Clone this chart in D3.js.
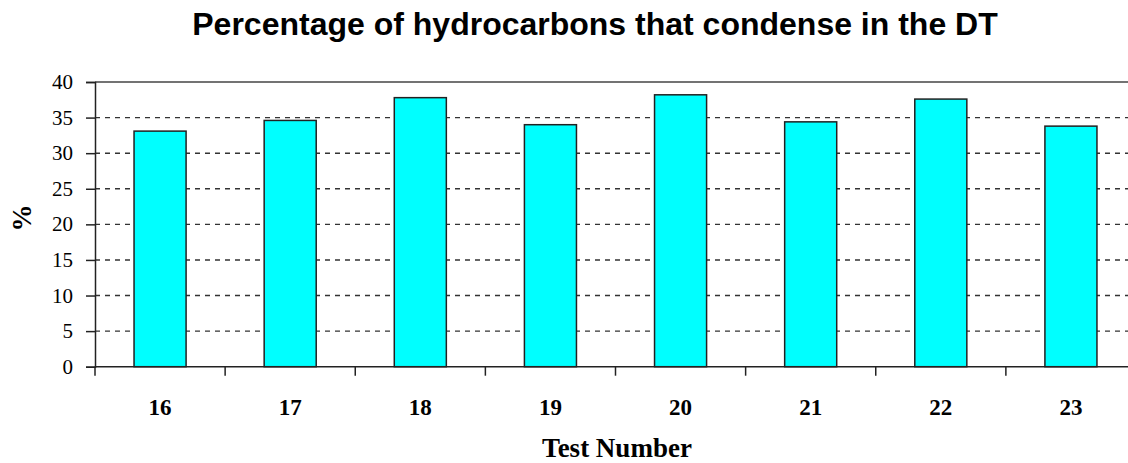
<!DOCTYPE html>
<html><head><meta charset="utf-8">
<script src="https://cdn.jsdelivr.net/npm/d3@7/dist/d3.min.js"></script>
<style>body{margin:0;background:#fff;overflow:hidden}</style>
</head><body>
<svg id="c" width="1128" height="463"></svg>
<script>
const categories = ["16","17","18","19","20","21","22","23"];
const values = [33.1, 34.6, 37.8, 34.0, 38.2, 34.4, 37.6, 33.8];
const yTicks = [0,5,10,15,20,25,30,35,40];
const title = "Percentage of hydrocarbons that condense in the DT";
const xTitle = "Test Number";
const yTitle = "%";

const serif = "'Liberation Serif', 'Times New Roman', serif";
const sans = "'Liberation Sans', Arial, sans-serif";
const svg = d3.select("#c");
const L = 95, R = 1136, T = 82, B = 366.7;
const x = d3.scaleBand().domain(categories).range([L, R]).padding(0);
const y = d3.scaleLinear().domain([0, 40]).range([B, T]);

// gridlines
svg.append("g").selectAll("line").data(yTicks.filter(d => d > 0 && d < 40)).join("line")
  .attr("x1", L).attr("x2", R).attr("y1", d => y(d)).attr("y2", d => y(d))
  .attr("stroke", "#333").attr("stroke-width", 1.4).attr("stroke-dasharray", "5,5");

// border top
svg.append("line").attr("x1", L).attr("x2", R).attr("y1", y(40)).attr("y2", y(40))
  .attr("stroke", "#444").attr("stroke-width", 1.5);

// bars
const bw = x.bandwidth() * 0.4;
svg.append("g").selectAll("rect").data(values).join("rect")
  .attr("x", (d, i) => x(categories[i]) + (x.bandwidth() - bw) / 2)
  .attr("y", d => y(d))
  .attr("width", bw)
  .attr("height", d => B - y(d))
  .attr("fill", "#00FFFF").attr("stroke", "#222").attr("stroke-width", 1.5);

// y axis (lines from d3 axis, labels drawn separately)
const yAxis = d3.axisLeft(y).tickValues(yTicks).tickSize(9).tickFormat(() => "");
const gy = svg.append("g").attr("transform", `translate(${L},0)`).call(yAxis);
gy.select(".domain").attr("stroke", "#222").attr("stroke-width", 1.5);
gy.selectAll(".tick line").attr("stroke", "#222").attr("stroke-width", 1.5);
svg.append("g").selectAll("text.yl").data(yTicks).join("text").attr("class", "yl")
  .attr("x", 73).attr("y", d => y(d) + 7).attr("text-anchor", "end")
  .attr("fill", "#000")
  .style("font-family", serif).style("font-size", "21px").text(d => d);

// x axis
const gx = svg.append("g").attr("transform", `translate(0,${B})`);
gx.append("line").attr("x1", L).attr("x2", R).attr("stroke", "#222").attr("stroke-width", 1.5);
const bounds = categories.map(c => x(c)).concat([R]);
gx.selectAll("line.t").data(bounds).join("line").attr("class", "t")
  .attr("x1", d => d).attr("x2", d => d).attr("y1", 0).attr("y2", 9)
  .attr("stroke", "#222").attr("stroke-width", 1.5);
gx.selectAll("text").data(categories).join("text")
  .attr("x", d => x(d) + x.bandwidth() / 2).attr("y", 48.5)
  .attr("text-anchor", "middle")
  .style("font-family", serif)
  .style("font-weight", "bold").style("font-size", "23px").text(d => d);

// titles
svg.append("text").attr("x", 595).attr("y", 35).attr("text-anchor", "middle")
  .style("font-family", sans).style("font-weight", "bold")
  .style("font-size", "32px").text(title);
svg.append("text").attr("x", 617).attr("y", 457).attr("text-anchor", "middle")
  .style("font-family", serif).style("font-weight", "bold")
  .style("font-size", "27px").text(xTitle);
svg.append("text").attr("transform", "translate(31,218) rotate(-90)").attr("text-anchor", "middle")
  .style("font-family", serif).style("font-weight", "bold")
  .style("font-size", "27px").text(yTitle);
</script>
</body></html>
